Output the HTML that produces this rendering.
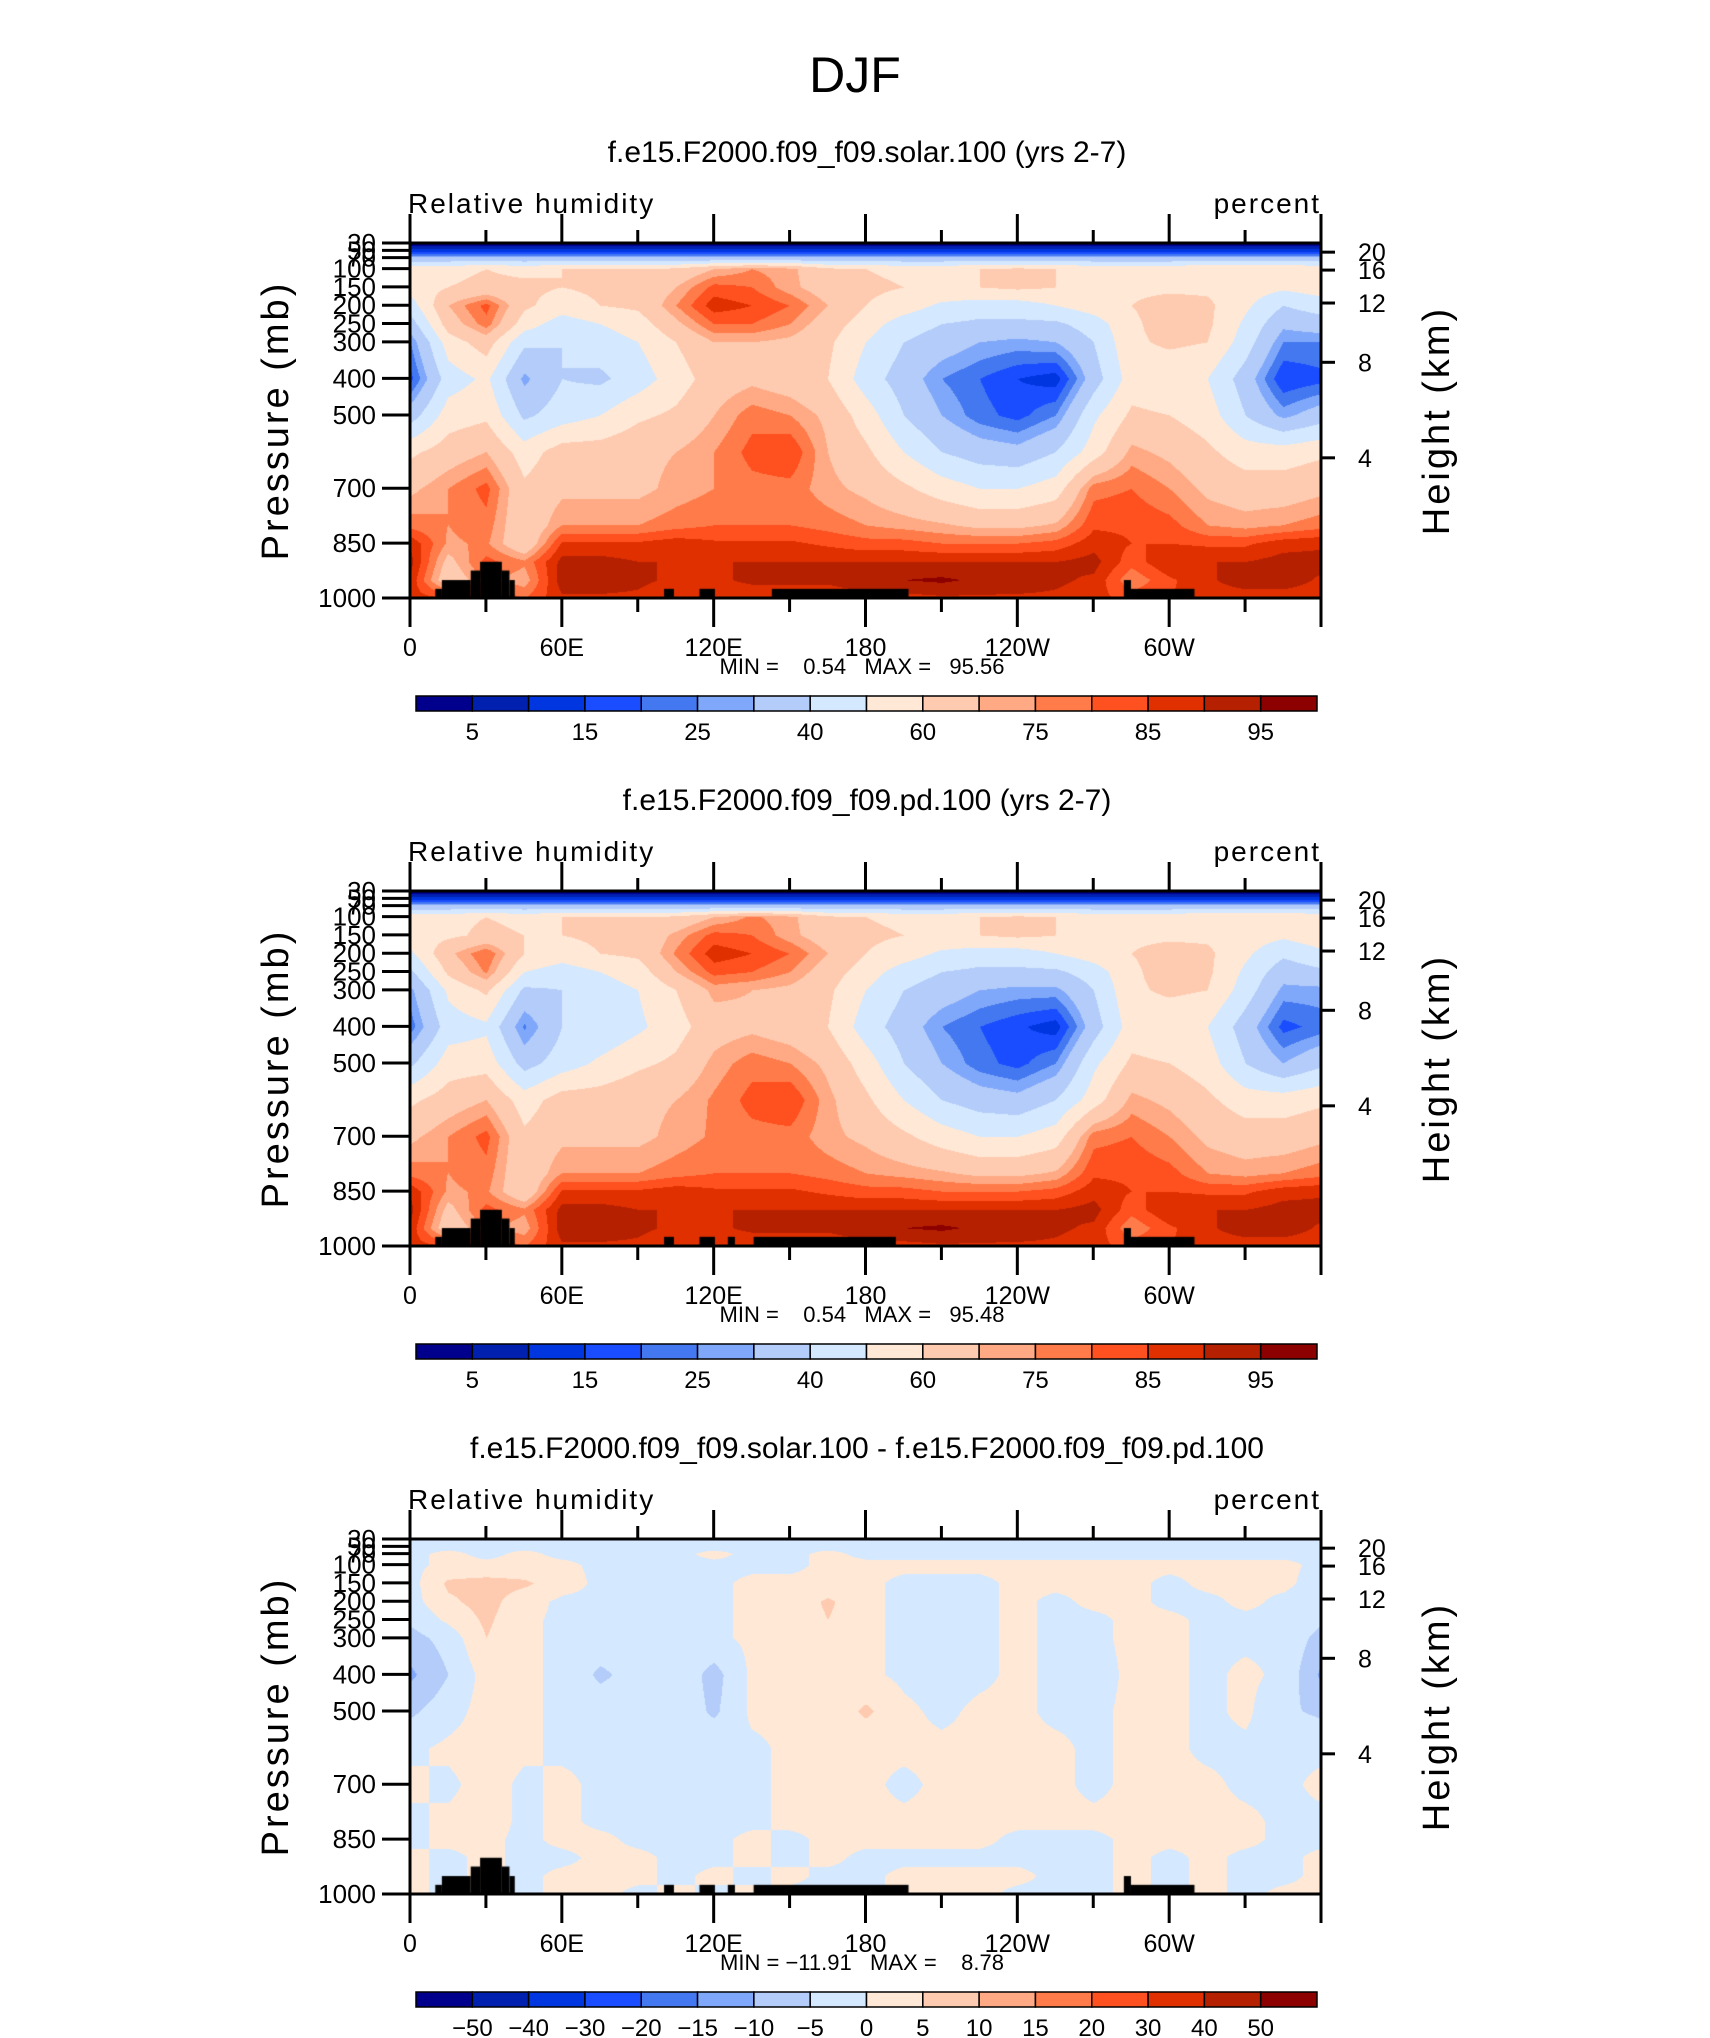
<!DOCTYPE html>
<html><head><meta charset="utf-8">
<style>
html,body{margin:0;padding:0;background:#fff;}
#wrap{position:relative;width:1710px;height:2038px;overflow:hidden;}
canvas{position:absolute;}
svg{position:absolute;left:0;top:0;}
text{font-family:"Liberation Sans",sans-serif;fill:#000;}
</style></head>
<body>
<div id="wrap">
<canvas id="c0" width="911" height="355" style="left:410px;top:243px"></canvas>
<canvas id="c1" width="911" height="355" style="left:410px;top:891px"></canvas>
<canvas id="c2" width="911" height="355" style="left:410px;top:1539px"></canvas>
<svg id="svg" width="1710" height="2038" xmlns="http://www.w3.org/2000/svg">
<text x="855" y="92" font-size="50" text-anchor="middle" fill="#222">DJF</text>
</svg>
</div>
<script>
const lons = [0,15,30,45,60,75,90,105,120,135,150,165,180,195,210,225,240,255,270,285,300,315,330,345,360];
const levs = [30,50,70,100,150,200,250,300,400,500,600,700,800,850,900,950,1000];
const rhSolar = [
[2,2,2,2,2,2,2,2,2,2,2,2,2,2,2,2,2,2,2,2,2,2,2,2,2],
[12,12,12,12,12,12,12,12,12,12,12,12,12,12,12,12,12,12,12,12,12,12,12,12,12],
[32,32,32,32,32,32,32,32,32,32,32,32,32,32,32,32,32,32,32,32,32,32,32,32,32],
[58,58,60,58,60,60,60,62,70,75,72,62,60,58,58,60,62,60,58,58,58,60,60,60,58],
[55,60,62,62,60,62,62,70,82,80,72,65,62,60,58,60,62,60,58,58,58,58,55,52,55],
[45,70,82,62,55,60,62,75,88,85,80,70,60,55,48,45,45,50,55,60,64,62,52,40,45],
[35,65,78,55,45,50,55,68,80,80,75,65,55,45,40,38,38,38,45,58,65,62,48,32,35],
[25,55,65,42,40,45,50,60,70,70,68,62,50,40,35,30,28,30,40,58,62,60,45,25,25],
[18,45,52,28,40,38,45,55,65,68,65,60,45,35,25,20,15,12,35,55,52,50,35,15,18],
[35,55,58,38,45,50,58,62,70,78,75,68,55,40,30,22,18,25,48,62,60,55,40,28,35],
[58,65,70,55,65,65,68,70,75,82,85,70,62,50,40,35,33,40,55,72,68,62,55,55,58],
[68,75,82,62,68,68,68,72,75,78,78,72,68,62,55,50,50,55,78,80,75,68,65,65,68],
[78,75,78,62,75,75,75,78,80,80,80,78,75,73,71,68,68,71,84,84,82,75,73,75,78],
[89,74,76,62,86,86,86,88,86,86,86,84,82,82,80,80,80,82,88,85,85,84,84,88,89],
[92,67,82,76,92,92,90,90,90,90,90,90,90,90,90,90,90,90,92,82,90,90,90,92,92],
[89,63,76,72,93,93,91,89,89,91,91,91,93,95,96,94,93,91,89,76,84,89,93,93,89],
[87,86,86,80,89,89,89,87,87,87,87,87,88,88,89,89,89,89,87,83,85,87,87,87,87]];
const rhPd = [
[2,2,2,2,2,2,2,2,2,2,2,2,2,2,2,2,2,2,2,2,2,2,2,2,2],
[12,12,12,12,12,12,12,12,12,12,12,12,12,12,12,12,12,12,12,12,12,12,12,12,12],
[32,32,32,32,32,32,32,32,32,32,32,32,32,32,32,32,32,32,32,32,32,32,32,32,32],
[58,58,60,58,60,60,60,62,70,76,72,62,60,58,58,60,62,60,58,58,58,60,60,60,58],
[56,58,62,60,60,62,62,72,82,80,72,65,62,60,58,60,62,60,58,58,58,58,55,52,56],
[48,68,80,60,55,60,62,76,88,85,80,70,60,55,48,45,45,50,55,60,64,62,52,42,48],
[38,62,76,50,45,50,55,70,82,80,75,65,55,45,40,38,38,38,45,58,65,62,48,34,38],
[28,52,62,38,40,45,50,60,72,70,68,62,50,40,35,30,28,28,40,58,62,60,45,28,28],
[22,45,48,24,40,42,48,56,66,68,65,60,45,35,25,20,16,12,35,55,52,50,35,18,22],
[38,55,56,36,45,52,58,62,72,78,75,68,55,40,30,22,18,25,48,62,60,55,40,30,38],
[58,65,70,55,65,65,68,70,76,82,85,72,62,50,40,35,33,40,55,72,68,62,55,55,58],
[68,75,82,62,68,68,68,72,76,78,78,72,68,62,55,50,50,55,78,80,75,68,65,65,68],
[78,75,78,62,75,75,75,78,80,80,80,78,75,73,71,68,68,71,84,84,82,75,73,75,78],
[89,74,76,62,86,86,86,88,86,86,86,84,82,82,80,80,80,82,88,85,85,84,84,88,89],
[92,67,82,76,92,92,90,90,90,90,90,90,90,90,90,90,90,90,92,82,90,90,90,92,92],
[89,63,76,72,93,93,91,89,89,91,91,91,93,95,96,94,93,91,89,76,84,89,93,93,89],
[87,86,86,80,89,89,89,87,87,87,87,87,88,88,89,89,89,89,87,83,85,87,87,87,87]];
const rhDiff = [
[-1,-1,-1,-1,-1,-1,-1,-1,-1,-1,-1,-1,-1,-1,-1,-1,-1,-1,-1,-1,-1,-1,-1,-1,-1],
[-1,-1,-1,-1,-1,-1,-1,-1,-1,-1,-1,-1,-1,-1,-1,-1,-1,-1,-1,-1,-1,-1,-1,-1,-1],
[-1,1,-1,1,-1,-1,-1,-1,1,-1,-1,1,-1,-1,-1,-1,-1,-1,-1,-1,-1,-1,-1,-1,-1],
[-1,1,1,1,1,-1,-1,-1,-1,-1,-1,1,1,1,1,1,1,1,1,1,1,1,1,1,-1],
[-2,6,7,6,2,-1,-1,-1,-1,1,1,1,1,-1,-1,-1,1,1,1,1,-1,1,1,1,-2],
[-2,4,7,2,-1,-1,-1,-1,-1,1,1,6,1,-1,-1,-1,1,-1,1,1,-1,-1,1,-1,-2],
[-4,1,6,1,-1,-1,-1,-1,-1,1,1,5,1,-1,-1,-1,1,-1,-1,1,1,-1,-1,-1,-4],
[-7,-3,5,1,-1,-2,-1,-1,-1,1,1,4,1,-1,-1,-1,1,-1,-1,1,1,-1,-1,-1,-7],
[-11,-5,2,1,-1,-6,-3,-1,-7,1,1,1,1,-1,-2,-1,1,-1,-2,1,1,-1,1,-1,-11],
[-6,-2,2,1,-1,-2,-1,-1,-6,1,1,1,6,1,-1,1,1,-1,-1,1,1,-1,1,-4,-6],
[-1,1,2,1,-1,-1,-1,-1,-1,-1,1,1,1,1,1,1,1,1,-1,1,1,-1,-1,-1,-1],
[1,-1,2,-1,1,-1,-1,-1,-1,-1,1,1,1,-1,1,1,1,1,-1,1,1,1,-1,-1,1],
[-1,1,2,-1,1,-1,-1,-1,-1,-1,1,1,1,1,1,1,1,1,1,1,1,1,1,-1,-1],
[-1,1,1,-1,1,1,-1,-1,-1,1,-1,1,1,1,1,1,-1,-1,-1,1,1,1,1,-1,-1],
[1,-1,1,-1,-1,1,1,-1,-1,1,-1,1,-1,-1,-1,-1,-1,-1,-1,1,-1,1,-1,-1,1],
[1,-1,1,-1,1,1,1,-1,1,-1,1,-1,-1,1,1,1,1,-1,-1,1,-1,1,-1,-1,1],
[1,-1,1,-1,1,1,-1,1,-1,1,-1,-1,-1,1,1,1,-1,-1,-1,1,-1,1,-1,1,1]];
const topoSolar = [[10,12.6,975],[12.6,24,951],[24,27.7,925],[27.7,36.3,901],[36.3,39.3,925],[39.3,41.4,951],[100.4,104.3,975],[114.4,120.5,975],[143,197,975],[282.1,284.9,951],[284.9,310,975]];
const topoPd = [[10,12.6,975],[12.6,24,951],[24,27.7,925],[27.7,36.3,901],[36.3,39.3,925],[39.3,41.4,951],[100.4,104.3,975],[114.4,120.5,975],[125.6,128.4,975],[135.8,192,975],[282.1,284.9,951],[284.9,310,975]];
const topoDiff = [[10,12.6,975],[12.6,24,951],[24,27.7,925],[27.7,36.3,901],[36.3,39.3,925],[39.3,41.4,951],[100.4,104.3,975],[114.4,120.5,975],[125.6,128.4,975],[135.8,197,975],[282.1,284.9,951],[284.9,310,975]];
const rhLevels = [5,10,15,20,25,30,40,50,60,70,75,80,85,90,95];
const rhLabels = ["5","","15","","25","","40","","60","","75","","85","","95"];
const diffLevels = [-50,-40,-30,-20,-15,-10,-5,0,5,10,15,20,30,40,50];
const diffLabels = ["\u221250","\u221240","\u221230","\u221220","\u221215","\u221210","\u22125","0","5","10","15","20","30","40","50"];
const colors = ['#00008c','#0021b0','#0036e0','#1a4dff','#4478f0','#80a8fa','#b4ccfa','#d4e8ff','#ffe9d6','#ffcbb0','#ffaa84','#ff7b4a','#ff5020','#e03000','#b42000','#8c0000'];
const titles = ["f.e15.F2000.f09_f09.solar.100 (yrs 2-7)","f.e15.F2000.f09_f09.pd.100 (yrs 2-7)","f.e15.F2000.f09_f09.solar.100 - f.e15.F2000.f09_f09.pd.100"];
const minmax = ["MIN =    0.54   MAX =   95.56","MIN =    0.54   MAX =   95.48","MIN = \u221211.91   MAX =    8.78"];
const pTicks = [30,50,70,100,150,200,250,300,400,500,700,850,1000];
const kmTicks = [20,16,12,8,4];
const kmPress = [55,104,194,356,617];
const lonTicks = [0,60,120,180,240,300];
const lonLabels = ["0","60E","120E","180","120W","60W"];

const PL=410, PW=911, PH=355, TOP0=243, DY=648;
const xScale = lon => PL + lon/360*PW;
const yScale = (p, top) => top + (p-30)/970*PH;

function rgb(h){return [parseInt(h.substr(1,2),16),parseInt(h.substr(3,2),16),parseInt(h.substr(5,2),16)];}
const rgbs = colors.map(rgb);
function interp(grid, lon, p){
  let i = Math.min(Math.floor(lon/15), lons.length-2);
  let t = (lon - lons[i])/15;
  let j = 0; while (j < levs.length-2 && p > levs[j+1]) j++;
  let u = (p - levs[j])/(levs[j+1]-levs[j]);
  const a = grid[j][i], b = grid[j][i+1], c = grid[j+1][i], d = grid[j+1][i+1];
  return (a*(1-t)+b*t)*(1-u) + (c*(1-t)+d*t)*u;
}
function colorIdx(v, levels){let k=0; while(k<levels.length && v>=levels[k]) k++; return k;}

const grids=[rhSolar,rhPd,rhDiff], topos=[topoSolar,topoPd,topoDiff], levSets=[rhLevels,rhLevels,diffLevels], labSets=[rhLabels,rhLabels,diffLabels];
for (let n=0;n<3;n++){
  const cv = document.getElementById('c'+n), ctx = cv.getContext('2d');
  const img = ctx.createImageData(PW, PH);
  for (let y=0;y<PH;y++){
    const p = 30 + y/PH*970;
    for (let x=0;x<PW;x++){
      const lon = x/PW*360;
      const k = colorIdx(interp(grids[n], lon, p), levSets[n]);
      const c = rgbs[k], o=(y*PW+x)*4;
      img.data[o]=c[0];img.data[o+1]=c[1];img.data[o+2]=c[2];img.data[o+3]=255;
    }
  }
  ctx.putImageData(img,0,0);
  ctx.fillStyle='#000';
  topos[n].forEach(r=>{
    const x0 = xScale(r[0])-PL, x1 = xScale(r[1])-PL, y0 = yScale(r[2],0);
    ctx.fillRect(x0, y0, x1-x0, PH-y0);
  });
}

const svg = document.getElementById('svg');
const NS = 'http://www.w3.org/2000/svg';
function mk(tag, attrs, txt){const e=document.createElementNS(NS,tag); for(const k in attrs) e.setAttribute(k,attrs[k]); if(txt!==undefined) e.textContent=txt; svg.appendChild(e); return e;}
function line(x1,y1,x2,y2,w){return mk('line',{x1,y1,x2,y2,stroke:'#000','stroke-width':w});}

for (let n=0;n<3;n++){
  const top = TOP0 + n*DY, bot = top+PH, R = PL+PW;
  let e;
  e = mk('text',{x:867,y:top-81,'font-size':30,'text-anchor':'middle'},titles[n]);
  
  
  e = mk('text',{x:408,y:top-30,'font-size':28,'letter-spacing':'2'},'Relative  humidity');
  
  
  e = mk('text',{x:R,y:top-30,'font-size':28,'text-anchor':'end','letter-spacing':'2'},'percent');
  
  
  e = mk('rect',{x:PL,y:top,width:PW,height:PH,fill:'none',stroke:'#000','stroke-width':3});
  
  
  for (let lon=0; lon<=360; lon+=30){
    const x = xScale(lon), major = lon%60===0;
    line(x, top, x, top-(major?29:13), 3);
    line(x, bot, x, bot+(major?29:14), 3);
  }
  lonTicks.forEach((lon,i)=>{
    const t = mk('text',{x:xScale(lon),y:bot+58,'font-size':25,'text-anchor':'middle'},lonLabels[i]);
    
    
  });
  pTicks.forEach(p=>{
    const y = yScale(p, top);
    line(PL-28, y, PL, y, 3);
    const t = mk('text',{x:376,y:y+9,'font-size':26,'text-anchor':'end'},String(p));
    
    
  });
  kmTicks.forEach((km,i)=>{
    const y = yScale(kmPress[i], top);
    line(R, y, R+14, y, 3);
    const t = mk('text',{x:1358,y:y+9,'font-size':25},String(km));
    
    
  });
  const cy = top+PH/2;
  e = mk('text',{x:0,y:0,'font-size':38,'text-anchor':'middle','letter-spacing':'3',transform:`translate(288,${cy}) rotate(-90)`},'Pressure  (mb)');
  
  
  e = mk('text',{x:0,y:0,'font-size':38,'text-anchor':'middle','letter-spacing':'3',transform:`translate(1449,${cy}) rotate(-90)`},'Height  (km)');
  
  
  e = mk('text',{x:862,y:bot+76,'font-size':22,'text-anchor':'middle','xml:space':'preserve',style:'white-space:pre'},minmax[n]);
  
  
  const cbL=416, cbW=901, cbT=top+453, cbH=15, bw=cbW/16;
  for (let k=0;k<16;k++){
    const r = mk('rect',{x:cbL+k*bw,y:cbT,width:bw,height:cbH,fill:colors[k],stroke:'#000','stroke-width':1.5});
    
    
  }
  labSets[n].forEach((lab,k)=>{
    if(!lab) return;
    const t = mk('text',{x:cbL+(k+1)*bw,y:cbT+44,'font-size':24,'text-anchor':'middle'},lab);
    
    
  });
}
</script>
</body></html>
